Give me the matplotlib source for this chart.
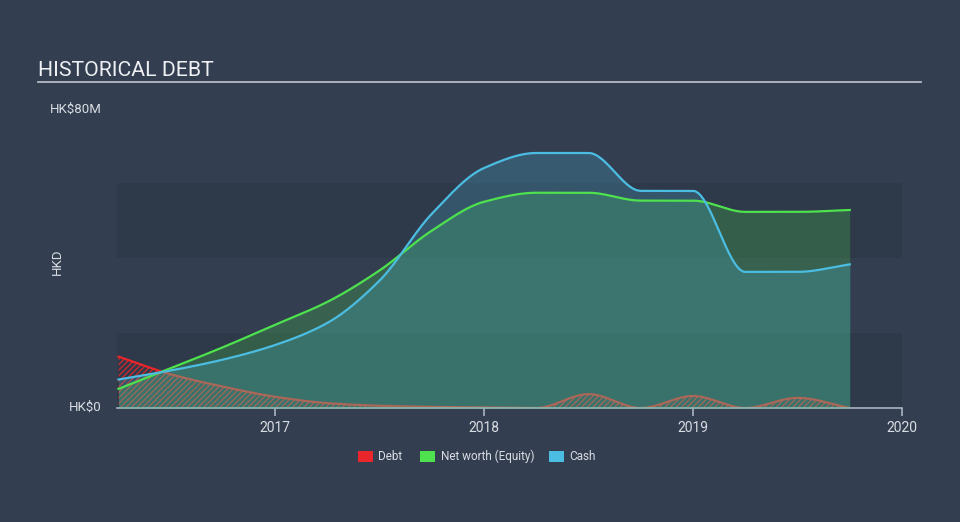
import numpy as np
import matplotlib
matplotlib.use("Agg")
import matplotlib.pyplot as plt
from matplotlib.patches import Rectangle
from matplotlib.lines import Line2D

plt.rcParams['font.family'] = ['Roboto', 'DejaVu Sans']
plt.rcParams['hatch.linewidth'] = 0.9

# ---- data (HK$ millions) ----
dates = [2016.25, 2016.5, 2016.75, 2017.0, 2017.25, 2017.5, 2017.75, 2018.0,
         2018.25, 2018.5, 2018.75, 2019.0, 2019.25, 2019.5, 2019.75]
debt = [13.7, 9.0, 5.7, 3.0, 1.3, 0.6, 0.3, 0.15,
        0.0, 3.7, 0.0, 3.2, 0.0, 2.7, 0.0]
equity = [5.1, 10.6, 16.2, 22.2, 28.3, 36.7, 47.3, 55.0,
          57.4, 57.4, 55.3, 55.3, 52.3, 52.3, 52.8]
cash = [7.6, 10.0, 12.9, 16.8, 22.7, 34.0, 51.8, 64.0,
        68.0, 68.0, 57.9, 57.9, 36.3, 36.3, 38.3]
year_ticks = [2017, 2018, 2019, 2020]
y_labels = ["HK$0", "HK$80M"]
legend_labels = ["Debt", "Net worth (Equity)", "Cash"]

BG = '#333f50'
BAND = '#2e3949'
RED = '#e8262b'
GREEN = '#4ee24e'
BLUE = '#4bbde2'
TXT = '#d9dde3'


def monotone(x, y, n=800):
    """Monotone cubic (Fritsch-Carlson) curve through the points, for drawing."""
    x = np.asarray(x, float)
    y = np.asarray(y, float)
    h = np.diff(x)
    d = np.diff(y) / h
    m = np.zeros_like(y)
    m[0] = d[0]
    m[-1] = d[-1]
    for i in range(1, len(y) - 1):
        if d[i - 1] * d[i] <= 0:
            m[i] = 0.0
        else:
            w1 = 2 * h[i] + h[i - 1]
            w2 = h[i] + 2 * h[i - 1]
            m[i] = (w1 + w2) / (w1 / d[i - 1] + w2 / d[i])
    xs = np.linspace(x[0], x[-1], n)
    idx = np.clip(np.searchsorted(x, xs) - 1, 0, len(x) - 2)
    t = (xs - x[idx]) / h[idx]
    h00 = 2 * t**3 - 3 * t**2 + 1
    h10 = t**3 - 2 * t**2 + t
    h01 = -2 * t**3 + 3 * t**2
    h11 = t**3 - t**2
    ys = h00 * y[idx] + h10 * h[idx] * m[idx] + h01 * y[idx + 1] + h11 * h[idx] * m[idx + 1]
    return xs, ys


fig = plt.figure(figsize=(9.6, 5.22), dpi=100, facecolor=BG)
ax = fig.add_axes([117 / 960, 1 - 408 / 522, 785 / 960, 300 / 522])
ax.set_facecolor(BG)
ax.set_xlim(2016.243, 2020.0)
ax.set_ylim(0, 80)

for lo, hi in [(0, 20), (40, 60)]:
    ax.axhspan(lo, hi, color=BAND, lw=0, zorder=0)

xd, yd = monotone(dates, debt)
xe, ye = monotone(dates, equity)
xc, yc = monotone(dates, cash)
yd = np.clip(yd, 0, None)

ax.fill_between(xd, 0, yd, facecolor='none', edgecolor=RED, hatch='//////',
                lw=0, zorder=1, alpha=0.9)
ax.plot(xd, yd, color=RED, lw=1.6, zorder=2)

ax.fill_between(xe, 0, ye, color=GREEN, alpha=0.22, lw=0, zorder=3)
ax.fill_between(xc, 0, yc, color=BLUE, alpha=0.22, lw=0, zorder=3)
ax.plot(xe, ye, color=GREEN, lw=1.6, zorder=4)
ax.plot(xc, yc, color=BLUE, lw=1.6, zorder=4)

for s in ['top', 'right', 'left']:
    ax.spines[s].set_visible(False)
ax.spines['bottom'].set_color('#a9b3c2')
ax.spines['bottom'].set_linewidth(1.2)
ax.set_yticks([])
ax.set_xticks(year_ticks)
ax.set_xticklabels([str(y) for y in year_ticks])
ax.tick_params(axis='x', colors='#a9b3c2', length=6, width=1.2, labelsize=10,
               labelcolor=TXT, pad=3)

# y labels
fig.text(102 / 960, 1 - 109 / 522, y_labels[1], ha='right', va='center', color=TXT, fontsize=9.5)
fig.text(102 / 960, 1 - 407 / 522, y_labels[0], ha='right', va='center', color=TXT, fontsize=9.5)
fig.text(57 / 960, 1 - 262 / 522, "HKD", ha='center', va='center', rotation=90,
         color=TXT, fontsize=9.5)

# title
fig.text(38 / 960, 1 - 76 / 522, "HISTORICAL DEBT", ha='left', va='baseline',
         color='#eef0f3', fontsize=15.3)
fig.add_artist(Line2D([38 / 960, 921 / 960], [1 - 81.5 / 522, 1 - 81.5 / 522],
                      color='#b5bac2', lw=1.3, transform=fig.transFigure))

# legend
for (x0, tx), col, lab in zip([(358, 378), (420, 441), (549, 569)],
                              [RED, GREEN, BLUE], legend_labels):
    fig.add_artist(Rectangle((x0 / 960, 1 - 462 / 522), 15 / 960, 11 / 522,
                             facecolor=col, edgecolor='none', transform=fig.transFigure))
    fig.text(tx / 960, 1 - 456.5 / 522, lab, ha='left', va='center', color=TXT, fontsize=8.5)

fig.savefig("out.png", dpi=100, facecolor=BG)
